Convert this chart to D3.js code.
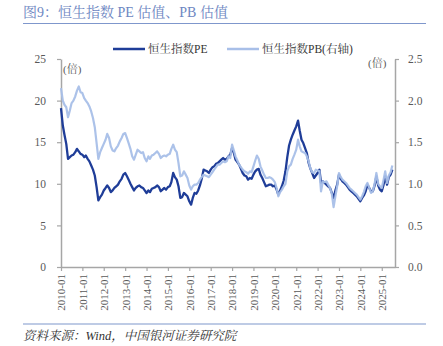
<!DOCTYPE html>
<html>
<head>
<meta charset="utf-8">
<script src="https://cdn.jsdelivr.net/npm/d3@7"></script>
<style>
  html, body { margin: 0; padding: 0; background: #fff; }
  svg { display: block; }
</style>
</head>
<body>
<div id="chart"></div>
<script>
// Data (monthly, 2010-01 .. 2025-07)
const startMonth = "2010-01";
const pe = [
  19.1, 17.0, 15.9, 14.8, 13.0, 13.2, 13.4, 13.5, 13.8, 14.2, 13.9, 13.6,
  13.5, 13.2, 13.4, 13.0, 12.7, 12.2, 11.7, 11.0, 9.6, 8.0, 8.4, 8.7,
  9.2, 9.5, 9.8, 9.5, 9.0, 9.2, 9.5, 9.7, 9.9, 10.3, 10.6, 11.1,
  11.3, 10.9, 10.5, 10.0, 9.6, 9.2, 9.5, 9.7, 9.8, 9.6, 9.5, 9.2,
  8.9, 9.2, 9.0, 9.4, 9.5, 9.6, 9.8, 9.6, 9.1, 9.3, 9.5, 9.3,
  9.6, 9.7, 10.2, 11.3, 10.8, 10.5, 9.7, 8.3, 8.4, 8.9, 8.7, 8.5,
  7.9, 7.5, 8.3, 8.9, 8.8, 9.2, 9.8, 10.6, 11.7, 11.6, 11.5, 11.3,
  11.7, 12.0, 12.1, 12.4, 12.5, 12.7, 12.9, 13.1, 12.9, 13.0, 13.3, 13.5,
  14.3, 13.7, 12.9, 12.6, 12.3, 11.8, 11.3, 11.0, 10.9, 10.5, 10.7, 10.6,
  11.1, 11.5, 11.7, 11.8, 11.1, 10.7, 10.2, 9.7, 9.8, 9.9, 9.9, 9.7,
  9.8, 9.3, 8.7, 9.2, 9.7, 10.4, 11.5, 13.2, 14.6, 15.3, 15.9, 16.4,
  16.9, 17.6, 16.4, 15.3, 14.9, 14.3, 13.7, 12.5, 11.8, 11.3, 10.7, 11.0,
  11.3, 11.7, 10.1, 10.3, 10.1, 9.9, 9.7, 9.5, 8.9, 8.3, 9.2, 9.9,
  11.1, 10.6, 10.3, 10.1, 9.9, 9.6, 9.3, 9.1, 8.9, 8.7, 8.5, 8.2,
  7.9, 8.3, 8.6, 9.1, 9.9, 9.5, 9.1, 9.1, 9.8, 10.9, 9.8, 9.3,
  9.1, 9.9, 10.9, 9.9, 10.8, 11.1, 11.7
];
const pb = [
  2.15, 2.00, 1.95, 1.92, 1.80, 1.88, 1.97, 2.00, 2.05, 2.12, 2.17, 2.10,
  2.09, 2.03, 2.00, 1.97, 1.93, 1.87, 1.79, 1.68, 1.49, 1.30, 1.38, 1.43,
  1.48, 1.53, 1.60, 1.55, 1.45, 1.40, 1.39, 1.43, 1.46, 1.51, 1.55, 1.60,
  1.61, 1.55, 1.49, 1.42, 1.33, 1.29, 1.35, 1.41, 1.39, 1.37, 1.38, 1.31,
  1.27, 1.33, 1.30, 1.34, 1.35, 1.37, 1.39, 1.36, 1.31, 1.33, 1.34, 1.33,
  1.35, 1.36, 1.42, 1.47, 1.41, 1.38, 1.25, 1.09, 1.10, 1.15, 1.11, 1.07,
  0.98, 0.93, 0.97, 0.99, 0.99, 1.01, 1.05, 1.08, 1.11, 1.10, 1.09, 1.08,
  1.11, 1.14, 1.17, 1.20, 1.23, 1.23, 1.25, 1.27, 1.26, 1.27, 1.33, 1.31,
  1.47, 1.40, 1.33, 1.28, 1.23, 1.20, 1.17, 1.15, 1.14, 1.12, 1.15, 1.14,
  1.21, 1.28, 1.34, 1.30, 1.21, 1.16, 1.11, 1.07, 1.07, 1.08, 1.07, 1.05,
  1.02, 0.95, 0.85, 0.90, 0.93, 0.97, 1.00, 1.15, 1.21, 1.23, 1.30, 1.35,
  1.41, 1.53, 1.45, 1.39, 1.38, 1.37, 1.33, 1.27, 1.18, 1.14, 1.13, 1.17,
  1.16, 1.15, 0.91, 1.03, 1.02, 1.03, 0.99, 0.95, 0.88, 0.72, 0.85, 0.97,
  1.13, 1.08, 1.05, 1.03, 1.01, 0.98, 0.95, 0.93, 0.91, 0.89, 0.87, 0.84,
  0.81, 0.85, 0.90, 0.97, 1.01, 0.95, 0.89, 0.91, 1.00, 1.13, 1.00, 0.97,
  0.95, 1.05, 1.15, 1.01, 1.10, 1.14, 1.22
];
const leftTicks = [0, 5, 10, 15, 20, 25];
const rightTicks = [0, 0.5, 1.0, 1.5, 2.0, 2.5];
const yearTicks = d3.range(2010, 2026).map(y => `${y}-01`);

const W = 443, H = 346;
const margin = { left: 61, right: 395, top: 59, bottom: 267 };
const FONT = "'Liberation Serif', 'Noto Serif CJK SC', 'Noto Sans CJK SC', serif";
const AXIS = "#a6a6a6";

const parseMonth = d3.timeParse("%Y-%m");
const t0 = parseMonth(startMonth);
const dates = pe.map((_, i) => d3.timeMonth.offset(t0, i));

const svg = d3.select("#chart").append("svg")
  .attr("width", W).attr("height", H)
  .attr("font-family", FONT);

// Title + rules
svg.append("text")
  .attr("x", 23).attr("y", 17)
  .attr("font-size", 14)
  .attr("fill", "#6d86c2")
  .text("图9：恒生指数 PE 估值、PB 估值");
svg.append("line")
  .attr("x1", 23).attr("x2", 426).attr("y1", 23.5).attr("y2", 23.5)
  .attr("stroke", "#7f97cc").attr("stroke-width", 1.2);
svg.append("line")
  .attr("x1", 23).attr("x2", 426).attr("y1", 324).attr("y2", 324)
  .attr("stroke", "#7f97cc").attr("stroke-width", 1.2);
svg.append("text")
  .attr("x", 23).attr("y", 340)
  .attr("font-size", 12.5)
  .attr("font-style", "italic")
  .attr("fill", "#333")
  .text("资料来源：Wind，中国银河证券研究院");

// Scales
const x = d3.scaleTime()
  .domain([t0, new Date(2025, 7, 15)])
  .range([margin.left, margin.right]);
const yL = d3.scaleLinear().domain([0, 25]).range([margin.bottom, margin.top]);
const yR = d3.scaleLinear().domain([0, 2.5]).range([margin.bottom, margin.top]);

// Axes
function styleAxis(g) {
  g.select(".domain").attr("stroke", AXIS).attr("stroke-width", 1.5);
  g.selectAll(".tick line").attr("stroke", AXIS).attr("stroke-width", 1.2);
  g.selectAll(".tick text").attr("fill", "#595959").attr("font-size", 11.5).attr("font-family", FONT);
}

svg.append("g")
  .attr("transform", `translate(${margin.left},0)`)
  .call(d3.axisLeft(yL).tickValues(leftTicks).tickSize(4).tickPadding(11).tickSizeOuter(0))
  .call(styleAxis);

svg.append("g")
  .attr("transform", `translate(${margin.right},0)`)
  .call(d3.axisRight(yR).tickValues(rightTicks).tickSize(4).tickPadding(9)
    .tickFormat(d3.format(".1f")).tickSizeOuter(0))
  .call(styleAxis);

const gx = svg.append("g")
  .attr("transform", `translate(0,${margin.bottom})`)
  .call(d3.axisBottom(x).tickValues(yearTicks.map(parseMonth))
    .tickFormat(d3.timeFormat("%Y-%m")).tickSize(4).tickSizeOuter(0))
  .call(styleAxis);
gx.selectAll(".tick text")
  .attr("font-size", 11)
  .attr("text-anchor", "end")
  .attr("transform", "rotate(-90)")
  .attr("x", -7).attr("y", 0).attr("dy", "0.35em");

// Unit labels
svg.append("text").attr("x", 63).attr("y", 73)
  .attr("font-size", 11).attr("fill", "#595959").text("(倍)");
svg.append("text").attr("x", 368).attr("y", 67)
  .attr("font-size", 11).attr("fill", "#595959").text("(倍)");

// Lines
const PE_COLOR = "#1f3d98";
const PB_COLOR = "#a8bfe8";

const linePE = d3.line().x((d, i) => x(dates[i])).y(d => yL(d));
const linePB = d3.line().x((d, i) => x(dates[i])).y(d => yR(d));

svg.append("path").datum(pe)
  .attr("d", linePE).attr("fill", "none")
  .attr("stroke", PE_COLOR).attr("stroke-width", 2.3).attr("stroke-linejoin", "round");
svg.append("path").datum(pb)
  .attr("d", linePB).attr("fill", "none")
  .attr("stroke", PB_COLOR).attr("stroke-width", 2.2).attr("stroke-linejoin", "round")
  .attr("stroke-opacity", 0.95);

// Legend
const legend = [
  { label: "恒生指数PE", color: PE_COLOR, x: 113 },
  { label: "恒生指数PB(右轴)", color: PB_COLOR, x: 227 }
];
const lg = svg.append("g").selectAll("g").data(legend).join("g")
  .attr("transform", d => `translate(${d.x},49)`);
lg.append("line").attr("x1", 0).attr("x2", 32)
  .attr("stroke", d => d.color).attr("stroke-width", 2.5);
lg.append("text").attr("x", 35).attr("dy", "0.35em")
  .attr("font-size", 11.5).attr("fill", "#333")
  .text(d => d.label);
</script>
</body>
</html>
